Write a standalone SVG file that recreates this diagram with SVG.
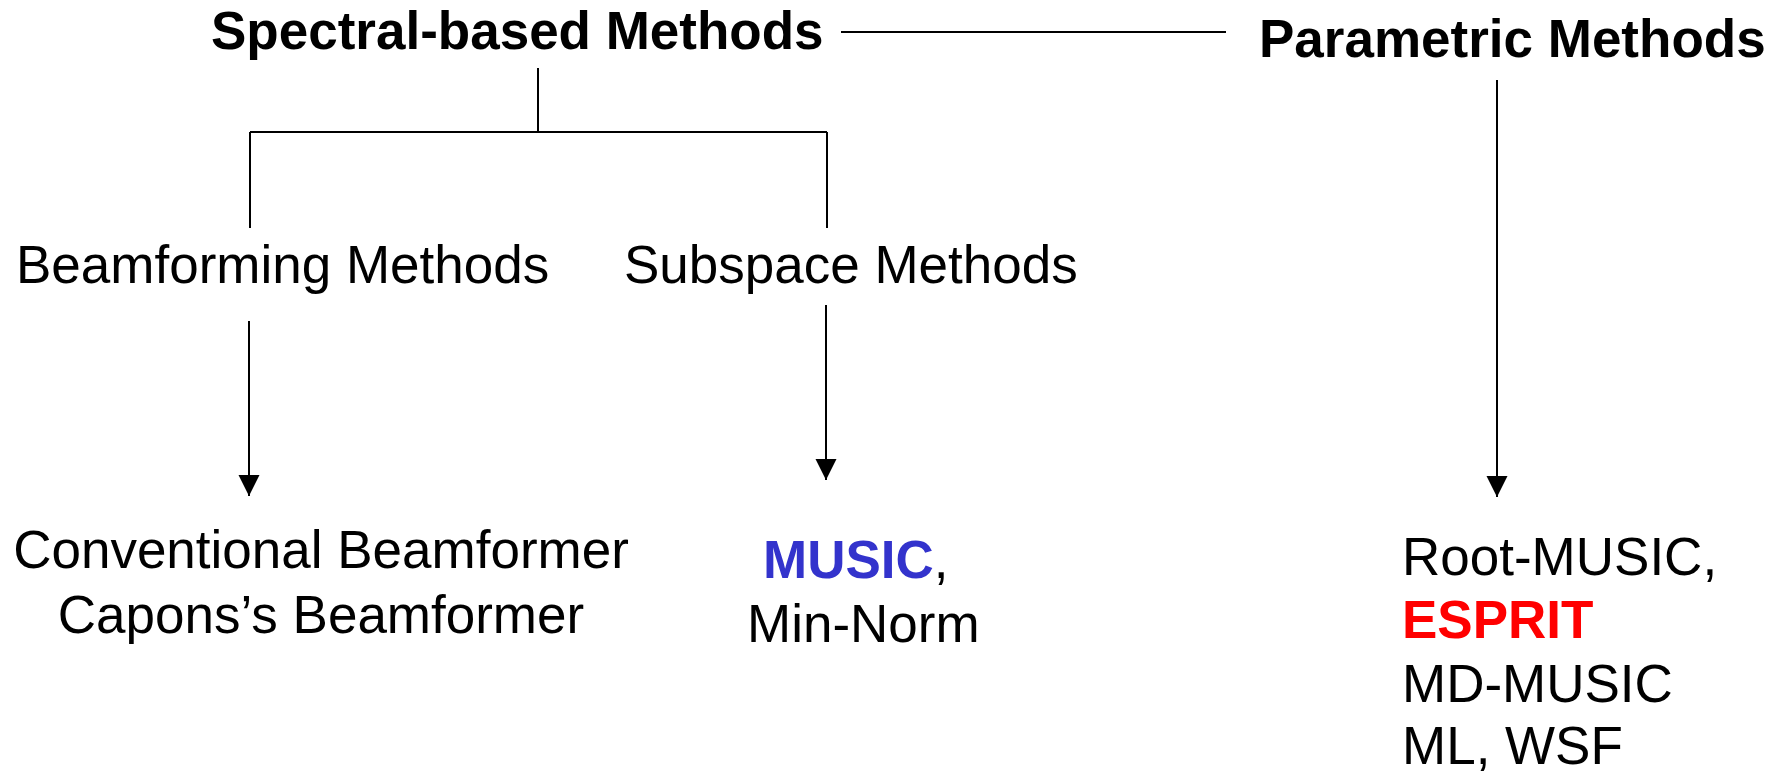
<svg xmlns="http://www.w3.org/2000/svg" width="1785" height="772" viewBox="0 0 1785 772">
<style>
text{font-family:"Liberation Sans",Arial,sans-serif;font-size:53px;fill:#000}
.b{font-weight:bold}
.blue{fill:#3333CC}
.red{fill:#FF0000}
.ln{stroke:#000;stroke-width:2;fill:none}
</style>
<defs>
<marker id="ah" markerUnits="userSpaceOnUse" markerWidth="22" markerHeight="22" refX="21" refY="10.5" orient="auto">
<path d="M0,0 L21,10.5 L0,21 z" fill="#000"/>
</marker>
</defs>
<rect width="1785" height="772" fill="#fff"/>
<g id="connectors">
<line class="ln" x1="841" y1="32" x2="1226" y2="32"/>
<line class="ln" x1="538" y1="68" x2="538" y2="132"/>
<line class="ln" x1="250" y1="132" x2="827" y2="132"/>
<line class="ln" x1="250" y1="132" x2="250" y2="228"/>
<line class="ln" x1="827" y1="132" x2="827" y2="228"/>
<line class="ln" x1="249" y1="321" x2="249" y2="496" marker-end="url(#ah)"/>
<line class="ln" x1="826" y1="305" x2="826" y2="480" marker-end="url(#ah)"/>
<line class="ln" x1="1497" y1="80" x2="1497" y2="497" marker-end="url(#ah)"/>
</g>
<g id="spectral"><text class="b" x="211" y="49">Spectral-based Methods</text></g>
<g id="parametric"><text class="b" x="1259" y="57">Parametric Methods</text></g>
<g id="beamforming"><text x="16" y="283">Beamforming Methods</text></g>
<g id="subspace"><text x="624" y="283">Subspace Methods</text></g>
<g id="beamformers">
<text x="321" y="568" text-anchor="middle">Conventional Beamformer</text>
<text x="321" y="633" text-anchor="middle">Capons’s Beamformer</text>
</g>
<g id="subspace-list">
<text x="763" y="578"><tspan class="b blue">MUSIC</tspan>,</text>
<text x="747" y="642">Min-Norm</text>
</g>
<g id="parametric-list">
<text x="1402" y="575">Root-MUSIC,</text>
<text class="b red" x="1402" y="638">ESPRIT</text>
<text x="1402" y="702">MD-MUSIC</text>
<text x="1402" y="764">ML, WSF</text>
</g>
</svg>
